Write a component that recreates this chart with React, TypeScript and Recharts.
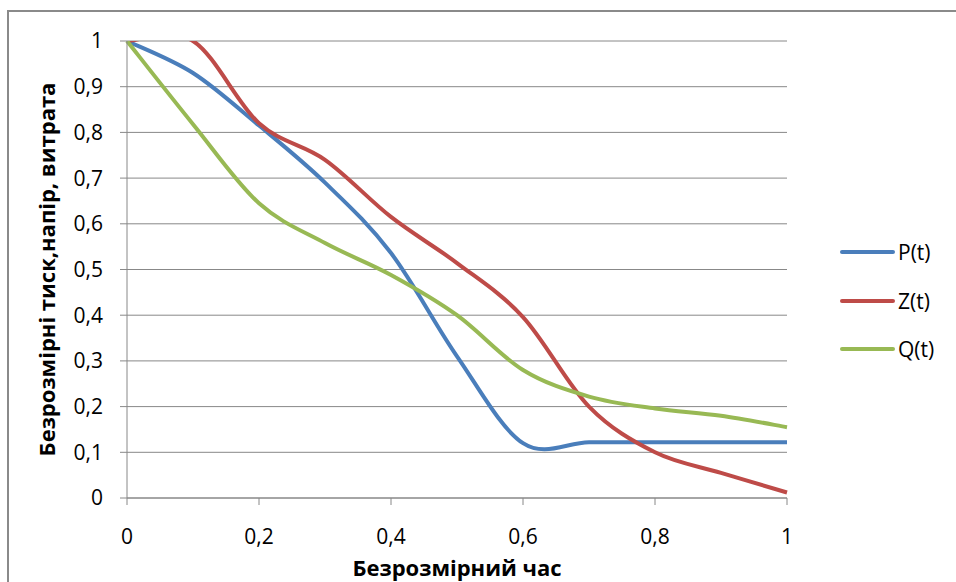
import { LineChart, Line, XAxis, YAxis, CartesianGrid } from 'recharts'

const times = [0, 0.1, 0.2, 0.3, 0.4, 0.5, 0.6, 0.7, 0.8, 0.9, 1]
const pValues = [1, 0.93, 0.815, 0.69, 0.536, 0.31, 0.12, 0.122, 0.122, 0.122, 0.122]
const zValues = [1, 1, 0.82, 0.74, 0.615, 0.514, 0.396, 0.2, 0.1, 0.055, 0.012]
const qValues = [1, 0.818, 0.645, 0.558, 0.488, 0.4, 0.28, 0.222, 0.196, 0.18, 0.155]
const xTicks = [0, 0.2, 0.4, 0.6, 0.8, 1]
const yTicks = [0, 0.1, 0.2, 0.3, 0.4, 0.5, 0.6, 0.7, 0.8, 0.9, 1]

const series = [
  { key: 'p', name: 'P(t)', color: '#4a7ebb' },
  { key: 'z', name: 'Z(t)', color: '#be4b48' },
  { key: 'q', name: 'Q(t)', color: '#98b954' },
]

const data = times.map((t, i) => ({ t, p: pValues[i], z: zValues[i], q: qValues[i] }))

const FONT = "'Open Sans', 'Liberation Sans', sans-serif"
const GRID = '#888888'

// Excel-like smoothing: uniform Catmull-Rom as bezier segments
function excelCurve(context: any) {
  let pts: number[][] = []
  return {
    areaStart() {},
    areaEnd() {},
    lineStart() {
      pts = []
    },
    point(x: number, y: number) {
      pts.push([+x, +y])
    },
    lineEnd() {
      const n = pts.length
      if (!n) return
      context.moveTo(pts[0][0], pts[0][1])
      for (let i = 0; i < n - 1; i++) {
        const p0 = pts[Math.max(i - 1, 0)]
        const p1 = pts[i]
        const p2 = pts[i + 1]
        const p3 = pts[Math.min(i + 2, n - 1)]
        context.bezierCurveTo(
          p1[0] + (p2[0] - p0[0]) / 6,
          p1[1] + (p2[1] - p0[1]) / 6,
          p2[0] - (p3[0] - p1[0]) / 6,
          p2[1] - (p3[1] - p1[1]) / 6,
          p2[0],
          p2[1]
        )
      }
    },
  }
}

const fmt = (v: number) => String(Math.round(v * 10) / 10).replace('.', ',')

function LegendBox() {
  return (
    <div
      style={{
        position: 'absolute',
        left: 840,
        top: 228,
        fontFamily: FONT,
        fontSize: 21,
        color: '#000',
      }}
    >
      {series.map((s) => (
        <div key={s.key} style={{ display: 'flex', alignItems: 'center', height: 48.5 }}>
          <div style={{ width: 55, height: 4, background: s.color, borderRadius: 2, marginRight: 3 }} />
          <span>{s.name}</span>
        </div>
      ))}
    </div>
  )
}

export default function App() {
  return (
    <div style={{ position: 'absolute', left: 0, top: 0, width: 956, height: 582, background: '#fff', overflow: 'hidden' }}>
      <div
        style={{
          position: 'absolute',
          left: 7,
          top: 10,
          width: 980,
          height: 600,
          border: '2px solid #8a8a8a',
          boxSizing: 'border-box',
        }}
      />
      <LineChart
        width={956}
        height={582}
        data={data}
        margin={{ top: 41, right: 169, bottom: 54, left: 57 }}
        style={{ position: 'absolute', left: 0, top: 0 }}
      >
        <CartesianGrid horizontal vertical={false} stroke={GRID} strokeWidth={1} />
        <XAxis
          dataKey="t"
          type="number"
          domain={[0, 1]}
          ticks={xTicks}
          tickFormatter={fmt}
          stroke={GRID}
          height={30}
          tickSize={7}
          tickMargin={24}
          tick={{ fill: '#000', fontSize: 21, fontFamily: FONT }}
          label={{
            value: 'Безрозмірний час',
            position: 'bottom',
            offset: 32,
            fill: '#000',
            fontSize: 22,
            fontWeight: 'bold',
            fontFamily: FONT,
          }}
        />
        <YAxis
          type="number"
          domain={[0, 1]}
          ticks={yTicks}
          allowDataOverflow
          tickFormatter={fmt}
          stroke={GRID}
          width={70}
          tickSize={7}
          tickMargin={17}
          tick={{ fill: '#000', fontSize: 21, fontFamily: FONT }}
          label={{
            value: 'Безрозмірні тиск,напір, витрата',
            angle: -90,
            position: 'insideLeft',
            offset: -10,
            style: { textAnchor: 'middle' },
            fill: '#000',
            fontSize: 22,
            fontWeight: 'bold',
            fontFamily: FONT,
          }}
        />
        {series.map((s) => (
          <Line
            key={s.key}
            dataKey={s.key}
            name={s.name}
            type={excelCurve as any}
            stroke={s.color}
            strokeWidth={4}
            dot={false}
            activeDot={false}
            isAnimationActive={false}
          />
        ))}
      </LineChart>
      <LegendBox />
    </div>
  )
}
